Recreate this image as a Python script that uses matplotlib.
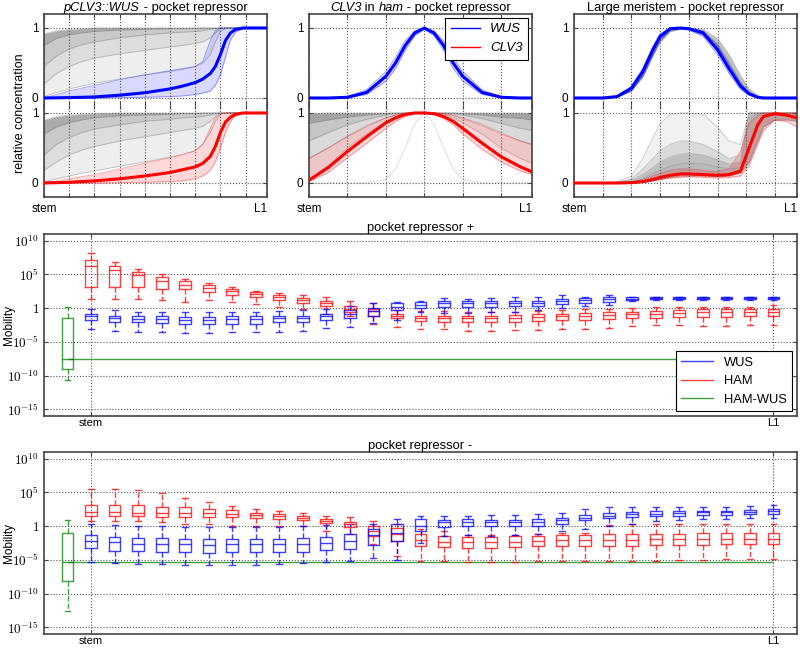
import numpy as np
import matplotlib
matplotlib.use("Agg")
import matplotlib.pyplot as plt
from matplotlib.lines import Line2D

plt.rcParams['font.family'] = ['Liberation Sans', 'DejaVu Sans']
plt.rcParams['mathtext.fontset'] = 'cm'

# ---------------- top panels: concentration profiles ----------------
# Panel 1: pCLV3::WUS
p1_x = [0, 0.5, 1, 1.5, 2, 3, 4, 5, 5.5, 6, 6.3, 6.6, 6.8, 7.0, 7.2, 7.4, 7.6, 7.9, 8.3, 8.85]
p1_wus_main = [0, 0.003, 0.006, 0.01, 0.015, 0.04, 0.075, 0.13, 0.17, 0.22, 0.27, 0.35, 0.45, 0.62, 0.82, 0.93, 0.98, 1.0, 1.0, 1.0]
p1_wus_lo = [0, 0, 0, 0, 0, 0.005, 0.01, 0.02, 0.03, 0.05, 0.07, 0.1, 0.18, 0.33, 0.58, 0.83, 0.94, 0.99, 1.0, 1.0]
p1_wus_hi = [0, 0.05, 0.10, 0.14, 0.18, 0.26, 0.33, 0.39, 0.42, 0.45, 0.52, 0.82, 0.96, 1.0, 1.0, 1.0, 1.0, 1.0, 1.0, 1.0]
p1_wus_gray_lo = [0.02, 0.08, 0.13, 0.17, 0.21, 0.27, 0.33, 0.38, 0.41, 0.45, 0.5, 0.62, 0.8, 0.95, 1, 1, 1, 1, 1, 1]
p1_wus_gray_q25 = [0.2, 0.35, 0.45, 0.52, 0.57, 0.63, 0.68, 0.73, 0.75, 0.78, 0.8, 0.86, 0.93, 0.99, 1, 1, 1, 1, 1, 1]
p1_wus_gray_q50 = [0.45, 0.6, 0.7, 0.76, 0.8, 0.86, 0.9, 0.93, 0.94, 0.95, 0.96, 0.98, 0.99, 1, 1, 1, 1, 1, 1, 1]
p1_wus_gray_q75 = [0.75, 0.85, 0.9, 0.93, 0.95, 0.97, 0.98, 0.99, 0.99, 0.995, 1, 1, 1, 1, 1, 1, 1, 1, 1, 1]
p1_wus_gray_hi = [0.92, 0.96, 0.98, 0.99, 1, 1, 1, 1, 1, 1, 1, 1, 1, 1, 1, 1, 1, 1, 1, 1]

p1_clv_main = [0, 0.005, 0.01, 0.02, 0.03, 0.06, 0.1, 0.15, 0.19, 0.23, 0.28, 0.38, 0.52, 0.72, 0.87, 0.94, 0.98, 1, 1, 1]
p1_clv_lo = [0, 0, 0, 0, 0, 0.005, 0.01, 0.02, 0.03, 0.06, 0.1, 0.18, 0.3, 0.5, 0.72, 0.88, 0.96, 1, 1, 1]
p1_clv_hi = [0, 0.03, 0.06, 0.09, 0.12, 0.2, 0.28, 0.36, 0.4, 0.46, 0.55, 0.78, 0.93, 0.99, 1, 1, 1, 1, 1, 1]
p1_clv_gray_lo = [0.02, 0.06, 0.1, 0.14, 0.17, 0.24, 0.3, 0.37, 0.41, 0.46, 0.55, 0.72, 0.88, 0.98, 1, 1, 1, 1, 1, 1]
p1_clv_gray_q25 = [0.18, 0.3, 0.4, 0.47, 0.52, 0.6, 0.66, 0.72, 0.75, 0.78, 0.81, 0.88, 0.95, 1, 1, 1, 1, 1, 1, 1]
p1_clv_gray_q50 = [0.4, 0.55, 0.65, 0.72, 0.77, 0.83, 0.88, 0.91, 0.93, 0.94, 0.95, 0.97, 0.99, 1, 1, 1, 1, 1, 1, 1]
p1_clv_gray_q75 = [0.7, 0.8, 0.86, 0.9, 0.93, 0.96, 0.97, 0.98, 0.99, 0.99, 1, 1, 1, 1, 1, 1, 1, 1, 1, 1]
p1_clv_gray_hi = [0.9, 0.95, 0.97, 0.98, 0.99, 1, 1, 1, 1, 1, 1, 1, 1, 1, 1, 1, 1, 1, 1, 1]

# Panel 2: CLV3 in ham
p2_x = [0, 0.5, 1, 1.5, 2, 2.25, 2.5, 2.75, 3, 3.25, 3.5, 3.75, 4, 4.5, 5, 5.5, 5.8]
p2_wus_main = [0, 0, 0.01, 0.08, 0.31, 0.5, 0.75, 0.93, 1, 0.93, 0.75, 0.5, 0.31, 0.08, 0.01, 0, 0]
p2_wus_lo = [0, 0, 0.005, 0.05, 0.24, 0.42, 0.68, 0.89, 0.98, 0.89, 0.68, 0.42, 0.24, 0.05, 0.005, 0, 0]
p2_wus_hi = [0, 0, 0.02, 0.12, 0.38, 0.58, 0.82, 0.96, 1, 0.96, 0.82, 0.58, 0.38, 0.12, 0.02, 0, 0]

p2_clv_main = [0.04, 0.22, 0.45, 0.66, 0.86, 0.93, 0.98, 1.0, 1.0, 0.99, 0.95, 0.88, 0.78, 0.57, 0.375, 0.23, 0.16]
p2_clv_lo = [0.02, 0.15, 0.36, 0.57, 0.78, 0.88, 0.95, 0.99, 1, 0.98, 0.92, 0.83, 0.7, 0.48, 0.3, 0.17, 0.12]
p2_clv_hi = [0.35, 0.5, 0.66, 0.8, 0.93, 0.97, 0.99, 1, 1, 1, 0.99, 0.96, 0.92, 0.82, 0.7, 0.6, 0.55]
p2_clv_gray_lo = [0.05, 0.25, 0.5, 0.7, 0.88, 0.94, 0.98, 1, 1, 1, 0.98, 0.93, 0.86, 0.7, 0.5, 0.35, 0.28]
p2_clv_gray_q25 = [0.35, 0.5, 0.67, 0.82, 0.93, 0.97, 0.99, 1, 1, 1, 0.99, 0.97, 0.93, 0.84, 0.72, 0.6, 0.55]
p2_clv_gray_q50 = [0.6, 0.72, 0.83, 0.91, 0.97, 0.99, 1, 1, 1, 1, 1, 0.99, 0.97, 0.92, 0.85, 0.78, 0.75]
p2_clv_gray_q75 = [0.85, 0.9, 0.94, 0.97, 0.99, 1, 1, 1, 1, 1, 1, 1, 0.99, 0.97, 0.94, 0.92, 0.9]
p2_clv_gray_hi = [0.99, 1, 1, 1, 1, 1, 1, 1, 1, 1, 1, 1, 1, 1, 1, 1, 0.99]
p2_clv_gray_narrow = [0, 0, 0, 0, 0.05, 0.2, 0.5, 0.85, 1, 0.85, 0.5, 0.2, 0.05, 0, 0, 0, 0]

# Panel 3: Large meristem
p3_x = [0, 1, 1.5, 2, 2.4, 2.75, 3, 3.35, 3.7, 4, 4.5, 5, 5.4, 5.8, 6.1, 6.4, 6.6, 7, 7.4, 7.77]
p3_wus_main = [0, 0, 0.02, 0.14, 0.38, 0.69, 0.88, 0.99, 1.0, 0.99, 0.93, 0.69, 0.42, 0.17, 0.06, 0.01, 0, 0, 0, 0]
p3_wus_lo = [0, 0, 0.01, 0.1, 0.32, 0.62, 0.83, 0.97, 0.99, 0.97, 0.88, 0.62, 0.35, 0.12, 0.04, 0.005, 0, 0, 0, 0]
p3_wus_hi = [0, 0, 0.03, 0.17, 0.43, 0.74, 0.92, 1, 1, 1, 0.96, 0.75, 0.48, 0.21, 0.08, 0.02, 0, 0, 0, 0]
p3_wus_gray_lo = [0, 0, 0.01, 0.1, 0.3, 0.6, 0.8, 0.95, 0.98, 0.98, 0.9, 0.68, 0.42, 0.17, 0.06, 0.01, 0, 0, 0, 0]
p3_wus_gray_mid = [0, 0, 0.015, 0.12, 0.35, 0.66, 0.86, 0.98, 1, 1, 0.95, 0.78, 0.52, 0.24, 0.09, 0.02, 0.005, 0, 0, 0]
p3_wus_gray_hi = [0, 0, 0.02, 0.15, 0.4, 0.72, 0.9, 1, 1, 1, 0.98, 0.85, 0.62, 0.32, 0.13, 0.04, 0.01, 0, 0, 0]

p3_clv_main = [0, 0, 0, 0.005, 0.02, 0.05, 0.08, 0.11, 0.13, 0.13, 0.12, 0.11, 0.12, 0.17, 0.5, 0.83, 0.95, 0.99, 0.97, 0.93]
p3_clv_lo = [0, 0, 0, 0, 0.01, 0.03, 0.05, 0.07, 0.08, 0.09, 0.08, 0.07, 0.08, 0.1, 0.25, 0.55, 0.75, 0.9, 0.88, 0.8]
p3_clv_hi = [0, 0, 0, 0.01, 0.05, 0.1, 0.14, 0.18, 0.2, 0.2, 0.18, 0.16, 0.2, 0.45, 0.85, 0.97, 1, 1, 1, 1]
p3_clv_gray_lo = [0, 0, 0, 0, 0.01, 0.03, 0.05, 0.08, 0.1, 0.1, 0.1, 0.09, 0.1, 0.14, 0.3, 0.6, 0.8, 0.9, 0.9, 0.88]
p3_clv_gray_q25 = [0, 0, 0, 0.02, 0.06, 0.13, 0.18, 0.24, 0.27, 0.28, 0.27, 0.23, 0.2, 0.22, 0.9, 1, 1, 1, 1, 1]
p3_clv_gray_q50 = [0, 0, 0.01, 0.04, 0.12, 0.22, 0.3, 0.37, 0.41, 0.42, 0.4, 0.33, 0.27, 0.3, 1, 1, 1, 1, 1, 1]
p3_clv_gray_q75 = [0, 0, 0.01, 0.06, 0.2, 0.35, 0.46, 0.55, 0.6, 0.6, 0.55, 0.45, 0.35, 0.4, 1, 1, 1, 1, 1, 1]
p3_clv_gray_hi = [0, 0, 0.02, 0.1, 0.35, 0.65, 0.85, 0.98, 1, 1, 0.98, 0.8, 0.6, 0.55, 1, 1, 1, 1, 1, 1]

# ---------------- boxplots (log10 of mobility) ----------------
positions = list(range(1, 31))
ham_p_whislo = [1.3, 1.3, 1.3, 1.2, 0.9, 1.2, 0.9, 0.6, 0.2, -0.1, -0.8, -1.2, -2.3, -2.8, -3.1, -3.1, -3.4, -3.4, -3.3, -3.2, -3.1, -3.1, -3.0, -2.6, -2.5, -2.5, -2.6, -2.6, -2.5, -2.5]
ham_p_q1 = [3.1, 3.1, 3.1, 2.9, 2.8, 2.4, 2.0, 1.6, 1.2, 0.7, 0.3, -0.6, -1.1, -1.5, -1.9, -2.0, -2.1, -2.1, -2.0, -1.9, -1.8, -1.7, -1.6, -1.5, -1.4, -1.3, -1.3, -1.3, -1.2, -1.2]
ham_p_med = [6.3, 5.7, 4.9, 4.1, 3.5, 3.0, 2.5, 2.1, 1.6, 1.2, 0.8, -0.1, -0.45, -1.2, -1.5, -1.4, -1.5, -1.5, -1.4, -1.3, -1.2, -1.1, -1.0, -0.9, -0.8, -0.7, -0.6, -0.5, -0.5, -0.5]
ham_p_q3 = [7.1, 6.3, 5.4, 4.6, 4.1, 3.4, 2.9, 2.4, 1.9, 1.5, 1.0, 0.25, -0.1, -0.8, -1.1, -1.1, -1.1, -1.1, -1.0, -0.9, -0.8, -0.7, -0.6, -0.5, -0.4, -0.3, -0.2, -0.2, -0.2, -0.1]
ham_p_whishi = [8.2, 6.9, 5.8, 5.0, 4.3, 3.7, 3.1, 2.6, 2.3, 1.9, 1.6, 1.1, 0.8, -0.3, -0.4, -0.4, -0.6, -0.6, -0.5, -0.4, -0.3, -0.2, -0.1, 0.0, 0.1, 0.2, 0.2, 0.2, 0.2, 0.4]

wus_p_whislo = [-3.1, -3.4, -3.6, -3.6, -3.7, -3.7, -3.6, -3.6, -3.5, -3.4, -3.0, -2.8, -2.2, -1.7, -0.6, -0.7, -0.7, -0.6, -0.6, -0.3, 0.0, 0.3, 0.5, 1.1, 1.2, 1.2, 1.2, 1.2, 1.2, 1.2]
wus_p_q1 = [-1.7, -2.0, -2.1, -2.2, -2.3, -2.3, -2.3, -2.3, -2.1, -2.0, -1.8, -1.4, -1.1, -0.3, 0.0, 0.2, 0.2, 0.2, 0.3, 0.3, 0.6, 0.8, 0.9, 1.2, 1.3, 1.3, 1.3, 1.3, 1.3, 1.3]
wus_p_med = [-1.2, -1.4, -1.6, -1.6, -1.7, -1.7, -1.6, -1.6, -1.5, -1.4, -1.2, -0.8, -0.4, 0.2, 0.5, 0.7, 0.7, 0.7, 0.8, 0.8, 1.1, 1.2, 1.3, 1.4, 1.45, 1.45, 1.45, 1.45, 1.45, 1.45]
wus_p_q3 = [-0.8, -1.1, -1.2, -1.2, -1.3, -1.3, -1.2, -1.2, -1.2, -1.1, -0.9, -0.3, 0.0, 0.7, 0.9, 1.1, 1.0, 1.0, 1.1, 1.1, 1.4, 1.5, 1.6, 1.6, 1.6, 1.6, 1.6, 1.6, 1.6, 1.6]
wus_p_whishi = [-0.1, -0.3, -0.5, -0.5, -0.6, -0.6, -0.5, -0.5, -0.4, -0.3, -0.2, 0.3, 0.7, 0.9, 1.1, 1.5, 1.3, 1.5, 1.6, 1.6, 1.9, 1.7, 1.9, 1.7, 1.7, 1.7, 1.7, 1.7, 1.7, 1.7]

ham_m_whislo = [0.8, 0.8, 0.7, 0.6, 0.25, 0.25, 0.0, 0.0, 0.0, 0.05, -0.65, -1.2, -2.6, -4.4, -5.1, -5.2, -5.3, -5.3, -5.3, -5.2, -5.2, -5.2, -5.1, -5.1, -5.1, -5.0, -4.95, -4.9, -4.9, -4.9]
ham_m_q1 = [1.5, 1.5, 1.5, 1.4, 1.4, 1.4, 1.3, 1.2, 1.0, 0.9, 0.45, -0.15, -1.4, -2.2, -2.9, -3.1, -3.3, -3.2, -3.1, -3.0, -3.0, -2.9, -2.9, -2.9, -2.8, -2.8, -2.8, -2.7, -2.7, -2.7]
ham_m_med = [2.1, 2.1, 2.0, 2.0, 2.0, 1.9, 1.8, 1.6, 1.5, 1.2, 0.8, 0.35, -0.65, -1.1, -2.0, -2.3, -2.4, -2.4, -2.3, -2.2, -2.1, -2.1, -2.0, -2.0, -1.95, -1.95, -1.9, -1.85, -1.85, -1.85]
ham_m_q3 = [3.2, 3.2, 3.1, 2.9, 2.8, 2.6, 2.4, 2.0, 1.8, 1.5, 1.1, 0.65, -0.05, -0.25, -1.1, -1.5, -1.6, -1.6, -1.5, -1.45, -1.35, -1.25, -1.15, -1.15, -1.1, -1.1, -1.05, -0.95, -0.95, -0.95]
ham_m_whishi = [5.5, 5.5, 5.3, 4.9, 4.2, 3.6, 3.0, 2.6, 2.2, 1.9, 1.5, 1.3, 0.8, 0.35, -0.45, -0.75, -1.3, -1.25, -1.25, -1.15, -1.05, -0.95, 0.15, 0.25, 0.25, 0.25, 0.25, 0.35, 0.35, 0.35]

wus_m_whislo = [-5.3, -5.5, -5.6, -5.6, -5.7, -5.7, -5.7, -5.7, -5.6, -5.5, -5.3, -5.1, -4.7, -5.0, -2.5, -1.45, -1.25, -1.45, -1.25, -1.15, -0.75, -0.35, 0.05, 0.35, 0.75, 0.85, 1.05, 1.05, 1.15, 1.25]
wus_m_q1 = [-3.3, -3.7, -3.7, -3.8, -3.9, -4.0, -3.9, -3.9, -3.9, -3.8, -3.6, -3.4, -2.8, -2.2, -0.75, -0.15, 0.05, -0.05, 0.05, 0.05, 0.25, 0.85, 1.15, 1.35, 1.45, 1.55, 1.65, 1.65, 1.75, 1.85]
wus_m_med = [-2.2, -2.4, -2.6, -2.7, -2.7, -2.8, -2.7, -2.7, -2.7, -2.6, -2.5, -2.2, -1.35, -0.95, 0.0, 0.55, 0.55, 0.55, 0.55, 0.65, 0.85, 1.25, 1.55, 1.85, 1.85, 1.95, 2.05, 2.05, 2.15, 2.2]
wus_m_q3 = [-1.35, -1.55, -1.7, -1.8, -1.9, -1.9, -1.9, -1.9, -1.9, -1.7, -1.6, -1.15, -0.45, 0.25, 1.1, 0.95, 1.05, 0.95, 0.95, 1.05, 1.25, 1.65, 1.95, 2.1, 2.2, 2.2, 2.3, 2.3, 2.45, 2.5]
wus_m_whishi = [0.35, 0.15, 0.0, 0.0, -0.1, -0.1, -0.1, -0.1, -0.1, 0.0, 0.15, 0.35, 0.35, 1.05, 1.5, 1.45, 1.55, 1.65, 1.65, 1.75, 1.95, 2.5, 2.9, 2.9, 2.9, 2.9, 2.9, 2.9, 3.0, 3.2]

hamwus_p = [-10.7, -9.0, -7.5, -1.4, 0.15]   # whislo, q1, med, q3, whishi
hamwus_m = [-12.6, -8.1, -5.36, -1.03, 0.9]

ytick_exp = [-15, -10, -5, 0, 5, 10]
ytick_labels = ['$10^{-15}$', '$10^{-10}$', '$10^{-5}$', '$1$', '$10^{5}$', '$10^{10}$']

BLUE = (0, 0, 1)
RED = (1, 0, 0)
GREEN = (0, 0.5, 0)
SPINE = '#444444'
W_PX, H_PX = 800, 648

fig = plt.figure(figsize=(8, 6.48), dpi=100)


def style_top(ax, xmax, show_bottom):
    ax.set_xlim(0, xmax)
    ticks = list(range(0, int(np.floor(xmax)) + 1))
    if ticks[-1] < xmax:
        ticks.append(xmax)
    ax.set_xticks(ticks)
    if show_bottom:
        ax.set_xticklabels(['stem'] + [''] * (len(ticks) - 2) + ['L1'], fontsize=8.5)
        ax.get_xticklabels()[-1].set_horizontalalignment('right')
    else:
        ax.set_xticklabels([])
    ax.set_yticks([0, 1])
    ax.set_yticklabels(['0', '1'], fontsize=8.5)
    ax.grid(True, linestyle=':', color='#555555', linewidth=0.8)
    ax.tick_params(direction='in', top=True, right=True, length=3, color=SPINE, pad=4)
    for s in ax.spines.values():
        s.set_color(SPINE)
        s.set_linewidth(1.2)


def draw_gray(ax, x, layers, alphas):
    # alphas[i] is the shade between layers[i] and layers[i+1]
    for k, a in enumerate(alphas):
        ax.fill_between(x, layers[k], layers[k + 1], color='0.35', alpha=a, lw=0, zorder=1)
    for lay in layers:
        ax.plot(x, lay, color='0.45', alpha=0.35, lw=0.7, zorder=1)


def draw_colored(ax, x, lo, main, hi, color):
    ax.fill_between(x, lo, hi, color=color, alpha=0.15, lw=0, zorder=2)
    ax.plot(x, lo, color=color, alpha=0.35, lw=0.7, zorder=2)
    ax.plot(x, hi, color=color, alpha=0.35, lw=0.7, zorder=2)
    ax.plot(x, main, color=color, lw=2.2, zorder=3)


def segmented_title(segments, center_px, baseline_px, size):
    renderer = fig.canvas.get_renderer()
    texts = [fig.text(0, 0, s, fontsize=size, style=st, va='baseline', ha='left')
             for s, st in segments]
    widths = [t.get_window_extent(renderer).width for t in texts]
    start = center_px - sum(widths) / 2
    for t, wd in zip(texts, widths):
        t.set_position((start / W_PX, 1 - baseline_px / H_PX))
        start += wd


lefts = [44, 309, 574]
w = 223
up_b, up_h = 1 - 105 / H_PX, 91 / H_PX
lo_b, lo_h = 1 - 197 / H_PX, 92 / H_PX

panels = [
    dict(x=p1_x, xmax=8.85,
         up_gray=[p1_wus_gray_lo, p1_wus_gray_q25, p1_wus_gray_q50, p1_wus_gray_q75, p1_wus_gray_hi],
         up_alpha=[0.1, 0.2, 0.32, 0.5],
         up=(p1_wus_lo, p1_wus_main, p1_wus_hi),
         dn_gray=[p1_clv_gray_lo, p1_clv_gray_q25, p1_clv_gray_q50, p1_clv_gray_q75, p1_clv_gray_hi],
         dn_alpha=[0.1, 0.2, 0.32, 0.5],
         dn=(p1_clv_lo, p1_clv_main, p1_clv_hi)),
    dict(x=p2_x, xmax=5.8,
         up_gray=None, up_alpha=None,
         up=(p2_wus_lo, p2_wus_main, p2_wus_hi),
         dn_gray=[p2_clv_gray_lo, p2_clv_gray_q25, p2_clv_gray_q50, p2_clv_gray_q75, p2_clv_gray_hi],
         dn_alpha=[0.12, 0.22, 0.35, 0.55],
         dn=(p2_clv_lo, p2_clv_main, p2_clv_hi)),
    dict(x=p3_x, xmax=7.77,
         up_gray=[p3_wus_gray_lo, p3_wus_gray_mid, p3_wus_gray_hi],
         up_alpha=[0.5, 0.35],
         up=(p3_wus_lo, p3_wus_main, p3_wus_hi),
         dn_gray=[p3_clv_gray_lo, p3_clv_gray_q25, p3_clv_gray_q50, p3_clv_gray_q75, p3_clv_gray_hi],
         dn_alpha=[0.42, 0.38, 0.22, 0.08],
         dn=(p3_clv_lo, p3_clv_main, p3_clv_hi)),
]
titles = [
    [('pCLV3::WUS', 'italic'), (' - pocket repressor', 'normal')],
    [('CLV3', 'italic'), (' in ', 'normal'), ('ham', 'italic'), (' - pocket repressor', 'normal')],
    [('Large meristem - pocket repressor', 'normal')],
]

for i, p in enumerate(panels):
    axu = fig.add_axes([lefts[i] / W_PX, up_b, w / W_PX, up_h])
    axd = fig.add_axes([lefts[i] / W_PX, lo_b, w / W_PX, lo_h])
    axu.set_ylim(-0.1, 1.2)
    axd.set_ylim(-0.2, 1.114)
    if p['up_gray'] is not None:
        draw_gray(axu, p['x'], p['up_gray'], p['up_alpha'])
    draw_colored(axu, p['x'], *p['up'], BLUE)
    draw_gray(axd, p['x'], p['dn_gray'], p['dn_alpha'])
    if i == 1:
        axd.plot(p['x'], p2_clv_gray_narrow, color='0.6', alpha=0.3, lw=0.8, zorder=1)
    draw_colored(axd, p['x'], *p['dn'], RED)
    style_top(axu, p['xmax'], False)
    style_top(axd, p['xmax'], True)
    axu.spines['bottom'].set_visible(False)
    axd.spines['top'].set_visible(False)
    segmented_title(titles[i], lefts[i] + w / 2, 11, 9.3)
    if i == 1:
        h = [Line2D([], [], color=BLUE, lw=1), Line2D([], [], color=RED, lw=1)]
        leg = axu.legend(h, ['WUS', 'CLV3'], loc='upper right',
                         prop={'style': 'italic', 'size': 9.5}, fancybox=False,
                         edgecolor='black', framealpha=1, handlelength=2.2,
                         borderaxespad=0.3)
        leg.get_frame().set_linewidth(0.8)

fig.text(0.025, 1 - 113 / H_PX, 'relative concentration', rotation=90,
         ha='center', va='center', fontsize=9)


# ---------------- boxplot panels ----------------
def make_stats(lo, q1, med, q3, hi):
    return [dict(whislo=10 ** a, q1=10 ** b, med=10 ** c, q3=10 ** d, whishi=10 ** e, fliers=[])
            for a, b, c, d, e in zip(lo, q1, med, q3, hi)]


def draw_box(ax, stats, pos, color):
    props = dict(color=color, alpha=0.75, linewidth=1.0)
    ax.bxp(stats, positions=pos, widths=0.5, showfliers=False,
           boxprops=props, medianprops=props,
           whiskerprops=dict(color=color, alpha=0.75, linewidth=1.0, linestyle='--'),
           capprops=props, capwidths=0.25, manage_ticks=False)


box_sets = [
    dict(title='pocket repressor +', top=234, bottom=416,
         ham=(ham_p_whislo, ham_p_q1, ham_p_med, ham_p_q3, ham_p_whishi),
         wus=(wus_p_whislo, wus_p_q1, wus_p_med, wus_p_q3, wus_p_whishi),
         hw=hamwus_p, legend=True),
    dict(title='pocket repressor -', top=452, bottom=634,
         ham=(ham_m_whislo, ham_m_q1, ham_m_med, ham_m_q3, ham_m_whishi),
         wus=(wus_m_whislo, wus_m_q1, wus_m_med, wus_m_q3, wus_m_whishi),
         hw=hamwus_m, legend=False),
]

for bs in box_sets:
    ax = fig.add_axes([44 / W_PX, 1 - bs['bottom'] / H_PX, 753 / W_PX,
                       (bs['bottom'] - bs['top']) / H_PX])
    ax.set_yscale('log')
    draw_box(ax, make_stats(*bs['ham']), positions, RED)
    draw_box(ax, make_stats(*bs['wus']), positions, BLUE)
    hw = bs['hw']
    draw_box(ax, make_stats([hw[0]], [hw[1]], [hw[2]], [hw[3]], [hw[4]]), [0], GREEN)
    ax.hlines(10 ** hw[2], 0, positions[-1], color=GREEN, alpha=0.75, lw=1.0, zorder=1)
    ax.set_xlim(-1, 31)
    ax.set_ylim(1e-16, 1e11)
    ax.set_yticks([10.0 ** e for e in ytick_exp])
    ax.set_yticklabels(ytick_labels, fontsize=9.5)
    ax.minorticks_off()
    ax.set_xticks([positions[0], positions[-1]])
    ax.set_xticklabels(['stem', 'L1'], fontsize=8)
    ax.grid(True, linestyle=':', color='#555555', linewidth=0.8)
    ax.tick_params(direction='in', top=True, right=True, length=3, color=SPINE)
    ax.tick_params(axis='x', pad=1.5)
    for s in ax.spines.values():
        s.set_color(SPINE)
        s.set_linewidth(1.2)
    ax.set_title(bs['title'], fontsize=9.3, pad=2)
    fig.text(9 / W_PX, 1 - (bs['top'] + bs['bottom']) / 2 / H_PX, 'Mobility',
             rotation=90, ha='center', va='center', fontsize=8.5)
    if bs['legend']:
        h = [Line2D([], [], color=c, alpha=0.75, lw=1) for c in (BLUE, RED, GREEN)]
        leg = ax.legend(h, ['WUS', 'HAM', 'HAM-WUS'], loc='lower right', fontsize=9.3,
                        fancybox=False, edgecolor='black', framealpha=1,
                        handlelength=2.5, borderaxespad=0.4)
        leg.get_frame().set_linewidth(0.8)

fig.savefig('out.png', dpi=100)
